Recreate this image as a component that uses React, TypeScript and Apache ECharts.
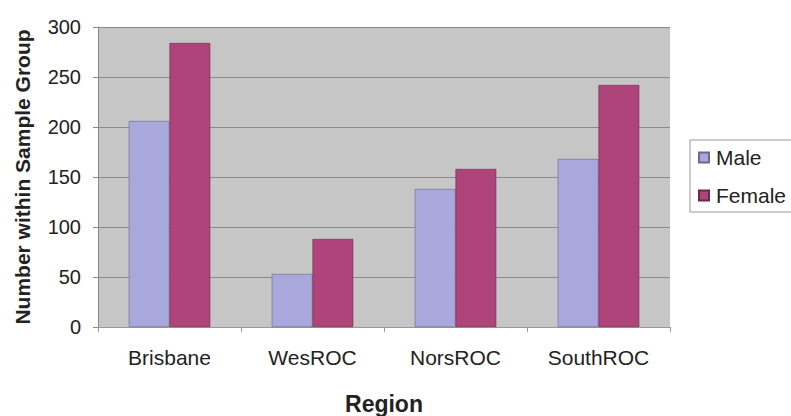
import React, { useEffect, useRef } from "react";
import * as echarts from "echarts";

const categories = ["Brisbane", "WesROC", "NorsROC", "SouthROC"];
const maleValues = [206, 53, 138, 168];
const femaleValues = [284, 88, 158, 242];
const seriesNames = ["Male", "Female"];

export default function App() {
  const ref = useRef<HTMLDivElement>(null);
  useEffect(() => {
    if (!ref.current) return;
    const chart = echarts.init(ref.current, undefined, { renderer: "svg" });
    const font = "'Liberation Sans', Arial, sans-serif";
    chart.setOption({
      animation: false,
      backgroundColor: "#ffffff",
      textStyle: { fontFamily: font },
      grid: {
        left: 98,
        right: 121,
        top: 27,
        bottom: 89,
        show: true,
        backgroundColor: "#c6c6c6",
        borderWidth: 0,
        containLabel: false,
        outerBoundsMode: "none",
      },
      legend: {
        orient: "vertical",
        left: 698,
        top: 147,
        padding: 0,
        itemWidth: 10,
        itemHeight: 10,
        itemGap: 17,
        icon: "rect",
        textStyle: { fontFamily: font, fontSize: 21, color: "#222", padding: [0, 0, 0, 2] },
        data: seriesNames,
      },
      graphic: [
        {
          type: "rect",
          shape: { x: 690, y: 140, width: 120, height: 72 },
          style: { fill: "none", stroke: "#999", lineWidth: 1 },
          silent: true,
        },
      ],
      xAxis: {
        type: "category",
        data: categories,
        name: "Region",
        nameLocation: "middle",
        nameGap: 65,
        nameTextStyle: { fontFamily: font, fontSize: 23, fontWeight: "bold", color: "#222" },
        axisLine: { show: true, lineStyle: { color: "#999", width: 1 } },
        axisTick: { show: true, length: 5, lineStyle: { color: "#999" } },
        axisLabel: { fontFamily: font, fontSize: 21, color: "#222", margin: 20 },
        splitLine: { show: false },
      },
      yAxis: {
        type: "value",
        min: 0,
        max: 300,
        interval: 50,
        name: "Number within Sample Group",
        nameLocation: "middle",
        nameGap: 65,
        nameRotate: 90,
        nameTextStyle: { fontFamily: font, fontSize: 21, fontWeight: "bold", color: "#222" },
        axisLine: { show: true, lineStyle: { color: "#888", width: 1 } },
        axisTick: { show: true, length: 5, lineStyle: { color: "#888" } },
        axisLabel: { fontFamily: font, fontSize: 20, color: "#222", margin: 17 },
        splitLine: { show: true, lineStyle: { color: "#8a8a8a", width: 1 } },
      },
      series: [
        {
          name: seriesNames[0],
          type: "bar",
          data: maleValues,
          barGap: "0%",
          barCategoryGap: "43%",
          itemStyle: { color: "#a9a8dc", borderColor: "#6a6a8a", borderWidth: 0.6 },
        },
        {
          name: seriesNames[1],
          type: "bar",
          data: femaleValues,
          barGap: "0%",
          barCategoryGap: "43%",
          itemStyle: { color: "#ae4479", borderColor: "#6a2a4a", borderWidth: 0.6 },
        },
      ],
    });
    return () => chart.dispose();
  }, []);
  return <div ref={ref} style={{ width: 791, height: 416, position: "absolute", left: 0, top: 0 }} />;
}
